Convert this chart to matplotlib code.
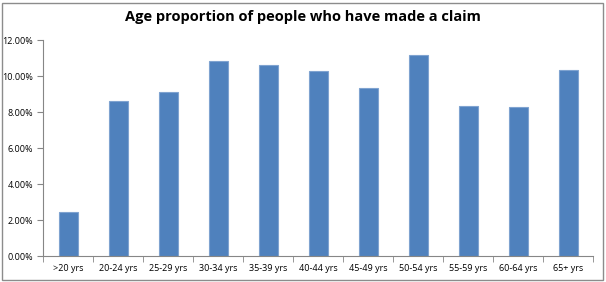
import matplotlib
matplotlib.use('Agg')
import numpy as np
from matplotlib import pyplot as plt
from matplotlib.ticker import PercentFormatter
from matplotlib.patches import Rectangle

# age groups and share of claimants (%)
age_groups = ['>20 yrs', '20-24 yrs', '25-29 yrs', '30-34 yrs', '35-39 yrs', '40-44 yrs',
              '45-49 yrs', '50-54 yrs', '55-59 yrs', '60-64 yrs', '65+ yrs']
claim_pct = [2.44, 8.63, 9.09, 10.83, 10.63, 10.30, 9.35, 11.17, 8.35, 8.28, 10.35]
y_ticks = [0, 2, 4, 6, 8, 10, 12]

plt.rcParams['font.family'] = ['Open Sans', 'DejaVu Sans']

fig = plt.figure(figsize=(6.06, 2.82), dpi=100)
ax = fig.add_axes([43/606, 1 - 256/282, 550/606, 216/282])

x = np.arange(len(age_groups))
ax.bar(x, claim_pct, width=0.38, color='#4F81BD', edgecolor='#7FA3D0', linewidth=0.8, zorder=2)

ax.set_xlim(-0.5, len(age_groups) - 0.5)
ax.set_ylim(0, 12)
ax.set_yticks(y_ticks)
ax.yaxis.set_major_formatter(PercentFormatter(decimals=2))

# category labels in the middle, ticks on the boundaries
ax.set_xticks(x)
ax.set_xticklabels(age_groups)
ax.set_xticks(np.arange(-0.5, len(age_groups)), minor=True)
ax.tick_params(axis='x', which='major', length=0, labelsize=6.5, pad=6)
ax.tick_params(axis='x', which='minor', length=4, color='#868686', direction='out')
ax.tick_params(axis='y', length=4, color='#868686', labelsize=6.5, pad=3)

for side in ['top', 'right']:
    ax.spines[side].set_visible(False)
for side in ['left', 'bottom']:
    ax.spines[side].set_color('#868686')
    ax.spines[side].set_linewidth(0.8)

fig.text(0.5, 1 - 17/282, 'Age proportion of people who have made a claim',
         ha='center', va='center', fontsize=10.5, fontweight='bold')

# outer chart border
fig.patches.append(Rectangle((2/606, 2/282), 601/606, 277/282, transform=fig.transFigure,
                             fill=False, edgecolor='#8C8C8C', linewidth=1))

fig.savefig('out.png', dpi=100)
